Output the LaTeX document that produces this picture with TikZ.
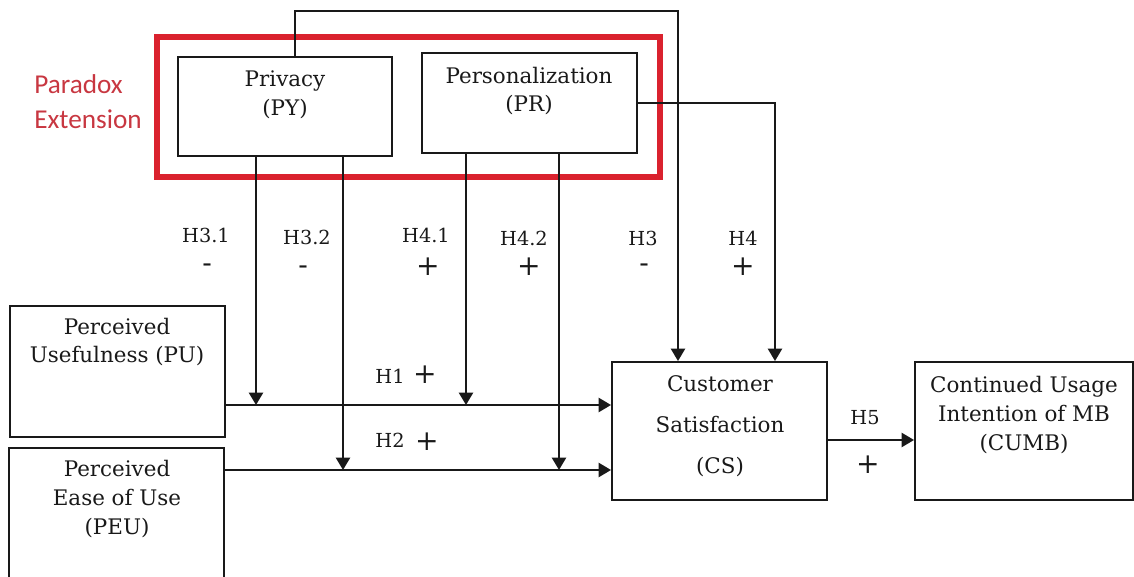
\documentclass[tikz,border=0pt]{standalone}
\usepackage{fontspec}
\setmainfont{DejaVu Serif}
\newfontfamily\calfont{Carlito}
\usetikzlibrary{arrows.meta,fit}
\definecolor{pdxred}{RGB}{218,34,46}
\definecolor{pdxtext}{RGB}{200,55,65}
\definecolor{ink}{RGB}{25,25,25}
\begin{document}
\begin{tikzpicture}[x=0.02cm,y=-0.02cm,
 box/.style={draw=ink, line width=1.1pt, inner sep=0pt},
 redbox/.style={draw=pdxred, line width=3pt, inner sep=0pt},
 conn/.style={draw=ink, line width=1.1pt},
 arr/.style={conn, -{Triangle[length=7pt,width=8pt]}},
 txt/.style={font=\fontsize{12.2}{16.4}\selectfont, align=center, inner sep=0pt, text=ink},
 hyp/.style={font=\fontsize{11}{14}\selectfont, inner sep=0pt, text=ink},
 sgn/.style={font=\fontsize{16}{16}\selectfont, inner sep=0pt, text=ink},
 pdxlabel/.style={font=\calfont\fontsize{15.5}{20}\selectfont, align=left, inner sep=0pt, text=pdxtext},
]
\useasboundingbox (0,0) rectangle (1134,577);

% red paradox frame
\node[redbox, fit={(157,37)(660,177)}] (pdx) {};
\node[pdxlabel] (pdxtxt) at (88,102) {Paradox\\Extension};

% boxes
\node[box, fit={(178,57)(392,156)}] (py) {};
\node[box, fit={(422,53)(637,153)}] (pr) {};
\node[box, fit={(10,306)(225,437)}] (pu) {};
\node[box, fit={(9,448)(224,600)}] (peu) {};
\node[box, fit={(612,362)(827,500)}] (cs) {};
\node[box, fit={(915,362)(1133,500)}] (cumb) {};

% box texts
\node[txt] (pyt) at (285,95) {Privacy\\(PY)};
\node[txt] (prt) at (529,91) {Personalization\\(PR)};
\node[txt] (put) at (117,342) {Perceived\\Usefulness (PU)};
\node[txt] (peut) at (117,499) {Perceived\\Ease of Use\\(PEU)};
\node[txt, font=\fontsize{12.2}{23.2}\selectfont] (cst) at (720,426) {Customer\\Satisfaction\\(CS)};
\node[txt] (cumbt) at (1024,415) {Continued Usage\\Intention of MB\\(CUMB)};

% helper coordinates
\coordinate (yPU) at (0,405);
\coordinate (yPEU) at (0,470);
\coordinate (yH5) at (0,440);
\coordinate (x31) at (256,0);
\coordinate (x32) at (343,0);
\coordinate (x41) at (466,0);
\coordinate (x42) at (559,0);
\coordinate (top) at (295,11);
\coordinate (x3) at (678,0);
\coordinate (x4) at (775,0);

% connectors
\draw[arr] (py.north -| top) -- (top) -| (cs.north -| x3);
\draw[arr] (pr.east) -| (cs.north -| x4);
\draw[arr] (py.south -| x31) -- (x31 |- yPU);
\draw[arr] (py.south -| x32) -- (x32 |- yPEU);
\draw[arr] (pr.south -| x41) -- (x41 |- yPU);
\draw[arr] (pr.south -| x42) -- (x42 |- yPEU);
\draw[arr] (pu.east |- yPU) -- (cs.west |- yPU);
\draw[arr] (peu.east |- yPEU) -- (cs.west |- yPEU);
\draw[arr] (cs.east |- yH5) -- (cumb.west |- yH5);

% hypothesis labels
\node[hyp] (h31) at (206,235) {H3.1};
\node[sgn] (s31) at (207,268) {-};
\node[hyp] (h32) at (307,237) {H3.2};
\node[sgn] (s32) at (303,270) {-};
\node[hyp] (h41) at (426,235) {H4.1};
\node[sgn] (s41) at (428,267) {+};
\node[hyp] (h42) at (524,238) {H4.2};
\node[sgn] (s42) at (529,267) {+};
\node[hyp] (h3) at (643,238) {H3};
\node[sgn] (s3) at (644,268) {-};
\node[hyp] (h4) at (743,238) {H4};
\node[sgn] (s4) at (743,267) {+};
\node[hyp] (h1) at (390,376) {H1};
\node[sgn] (s1) at (425,375) {+};
\node[hyp] (h2) at (390,440) {H2};
\node[sgn] (s2) at (427,442) {+};
\node[hyp] (h5) at (865,418) {H5};
\node[sgn] (s5) at (868,465) {+};
\end{tikzpicture}
\end{document}
